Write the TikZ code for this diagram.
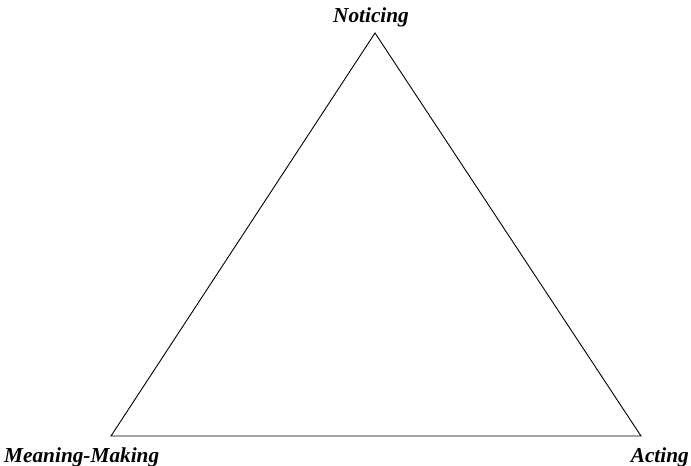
\documentclass[tikz,border=0pt]{standalone}
\usepackage{fontspec}
\setmainfont{Liberation Serif}
\begin{document}
\begin{tikzpicture}[x=1pt,y=-1pt,
  lbl/.style={font=\fontsize{21.3}{24}\selectfont\bfseries\itshape, inner sep=0pt},
  edge/.style={draw=black, line width=0.9pt}]
\useasboundingbox (0,0) rectangle (691,466);
\coordinate (T) at (375,33);
\coordinate (L) at (111,436);
\coordinate (R) at (641,436);
\draw[edge, line join=miter] (T) -- (L) -- (R) -- cycle;
\node[lbl, anchor=base] (n) at (371,22) {Noticing};
\node[lbl, anchor=base west] (m) at (4,462) {Meaning-Making};
\node[lbl, anchor=base east] (a) at (689,462) {Acting};
\end{tikzpicture}
\end{document}
